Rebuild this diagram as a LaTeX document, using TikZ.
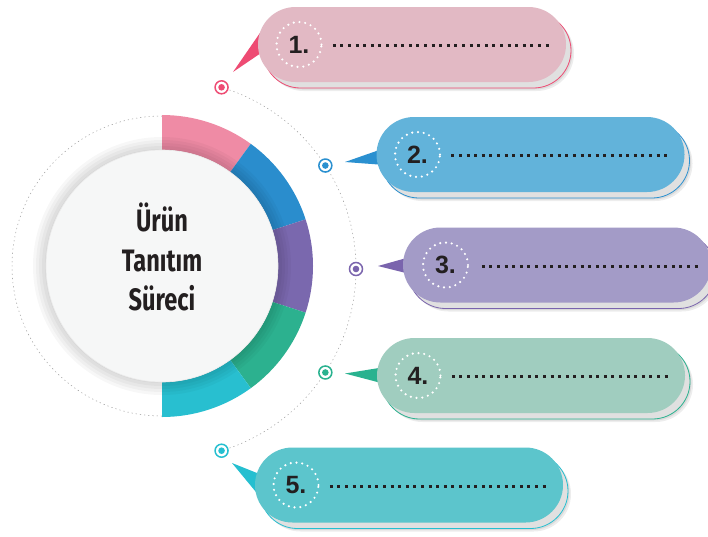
\documentclass[tikz,border=0pt]{standalone}
\usepackage{fontspec}
\usepackage{tikz}
\usetikzlibrary{shapes.misc}
\usetikzlibrary{positioning}
\usetikzlibrary{calc}
\usetikzlibrary{shadows}
\newfontfamily\numfont{Liberation Sans}
\newfontfamily\condfont[FakeStretch=0.76]{Fira Sans}
\definecolor{ringA}{HTML}{EF8BA5}
\definecolor{ringB}{HTML}{2A8DCD}
\definecolor{ringC}{HTML}{7A68AE}
\definecolor{ringD}{HTML}{2CB18F}
\definecolor{ringE}{HTML}{28BFD0}
\definecolor{pillA}{HTML}{E2B9C4}
\definecolor{pillB}{HTML}{62B3DA}
\definecolor{pillC}{HTML}{A39BC7}
\definecolor{pillD}{HTML}{A0CDBF}
\definecolor{pillE}{HTML}{5CC5CC}
\definecolor{accA}{HTML}{EE4B73}
\definecolor{accB}{HTML}{2A90D0}
\definecolor{accC}{HTML}{7A64AD}
\definecolor{accD}{HTML}{29B28F}
\definecolor{accE}{HTML}{25BFD0}
\definecolor{numtext}{HTML}{231F20}
\definecolor{corefill}{HTML}{F6F7F7}
\tikzstyle{pill}=[rounded rectangle, minimum width=308pt, minimum height=75pt, inner sep=0pt]
\tikzstyle{pillback}=[pill, fill=black!12, line width=0.8pt,
  drop shadow={shadow xshift=3pt, shadow yshift=-3pt, opacity=0.07, fill=black},
  drop shadow={shadow xshift=1.5pt, shadow yshift=-1.5pt, opacity=0.08, fill=black}]
\tikzstyle{numcirc}=[circle, minimum size=45pt, inner sep=0pt, draw=white, line width=2.4pt, line cap=round, dash pattern=on 0pt off 5.8pt, text=numtext, font=\numfont\bfseries\fontsize{25}{25}\selectfont]
\tikzstyle{dotline}=[numtext, line width=3pt, dash pattern=on 3pt off 4.6pt]
\tikzstyle{guide}=[black!40, line width=0.5pt, dash pattern=on 1.2pt off 3pt]
\tikzset{marker/.style={circle, draw=#1, fill=white, line width=1.5pt, minimum size=13pt, inner sep=0pt,
  path picture={\fill[#1] (path picture bounding box.center) circle (3.3pt);}}}

\begin{document}
\begin{tikzpicture}[x=1pt, y=-1pt]
        \useasboundingbox (0,0) rectangle (708,536);
        \clip (0,0) rectangle (708,536);
        \fill[white] (0,0) rectangle (708,536);
        \coordinate (c) at (162,266);
        \coordinate (a) at (166,269);
        % ring and core
        \draw[guide] ($(c)+(90:150)$) arc[start angle=90, end angle=270, radius=150];
        \foreach \s/\e/\col in {-90/-54/ringA, -54/-18/ringB, -18/18/ringC, 18/54/ringD, 54/90/ringE}
            \fill[\col] ($(c)+(\s:151)$) arc[start angle=\s, end angle=\e, radius=151]
                -- ($(c)+(\e:116)$) arc[start angle=\e, end angle=\s, radius=116] -- cycle;
        \foreach \r in {129,126,...,117}
            \fill[black, opacity=0.03] (c) circle (\r pt);
        \node[circle, minimum size=232pt, inner sep=0pt, fill=corefill, draw=black!8, line width=0.6pt] (core) at (c) {};
        \node[align=center, text=numtext, font=\condfont\bfseries\fontsize{31}{39.5}\selectfont] (title) at (162,257) {Ürün\\Tanıtım\\Süreci};
        % guide arc and markers
        \coordinate (k1) at ($(a)+(-73:190)$);
        \coordinate (k2) at ($(a)+(-33:190)$);
        \coordinate (k3) at ($(a)+(0:190)$);
        \coordinate (k4) at ($(a)+(33:190)$);
        \coordinate (k5) at ($(a)+(73:190)$);
        \draw[guide] (k1) arc[start angle=-73, end angle=73, radius=190];
        \node[marker=accA] (m1) at (k1) {};
        \node[marker=accB] (m2) at (k2) {};
        \node[marker=accC] (m3) at (k3) {};
        \node[marker=accD] (m4) at (k4) {};
        \node[marker=accE] (m5) at (k5) {};
        % callouts
        \node[pillback, draw=accA] (b1) at (417,50.5) {};
        \node[pillback, draw=accB] (b2) at (535.5,160.5) {};
        \node[pillback, draw=accC] (b3) at (562,271) {};
        \node[pillback, draw=accD] (b4) at (536,381.5) {};
        \node[pillback, draw=accE] (b5) at (414,491) {};
        \coordinate (w1) at (258,44.5);
        \coordinate (w2) at (377,154.5);
        \coordinate (w3) at (403,265);
        \coordinate (w4) at (377,375.5);
        \coordinate (w5) at (255,485);
        \fill[accA] ($(w1)+(4,-14.5)$) -- ($(w1)+(-25,27.5)$) -- ($(w1)+(17,-1)$) -- cycle;
        \fill[accB] ($(w2)+(8,-6.5)$) -- ($(w2)+(-32,7.5)$) -- ($(w2)+(8,10.5)$) -- cycle;
        \fill[accC] ($(w3)+(7,-8)$) -- ($(w3)+(-25,1)$) -- ($(w3)+(7,9)$) -- cycle;
        \fill[accD] ($(w4)+(8,-8.5)$) -- ($(w4)+(-32,-2)$) -- ($(w4)+(8,8.5)$) -- cycle;
        \fill[accE] ($(w5)+(17,-6)$) -- ($(w5)+(-23,-22)$) -- ($(w5)+(15,24)$) -- cycle;
        \node[pill, fill=pillA] (p1) at (412,44.5) {};
        \node[pill, fill=pillB] (p2) at (530.5,154.5) {};
        \node[pill, fill=pillC] (p3) at (557,265) {};
        \node[pill, fill=pillD] (p4) at (531,375.5) {};
        \node[pill, fill=pillE] (p5) at (409,485) {};
        \node[numcirc, right=17.5pt of p1.west] (n1) {1.};
        \node[numcirc, right=17.5pt of p2.west] (n2) {2.};
        \node[numcirc, right=19pt of p3.west] (n3) {3.};
        \node[numcirc, right=17.5pt of p4.west] (n4) {4.};
        \node[numcirc, right=17.5pt of p5.west] (n5) {5.};
        \draw[dotline] ($(p1.west)+(75,1)$) -- ($(p1.west)+(293,1)$);
        \draw[dotline] ($(p2.west)+(75,1)$) -- ($(p2.west)+(293,1)$);
        \draw[dotline] ($(p3.west)+(79,1)$) -- ($(p3.west)+(297,1)$);
        \draw[dotline] ($(p4.west)+(75,1)$) -- ($(p4.west)+(293,1)$);
        \draw[dotline] ($(p5.west)+(75,1)$) -- ($(p5.west)+(293,1)$);
    \end{tikzpicture}
\end{document}
